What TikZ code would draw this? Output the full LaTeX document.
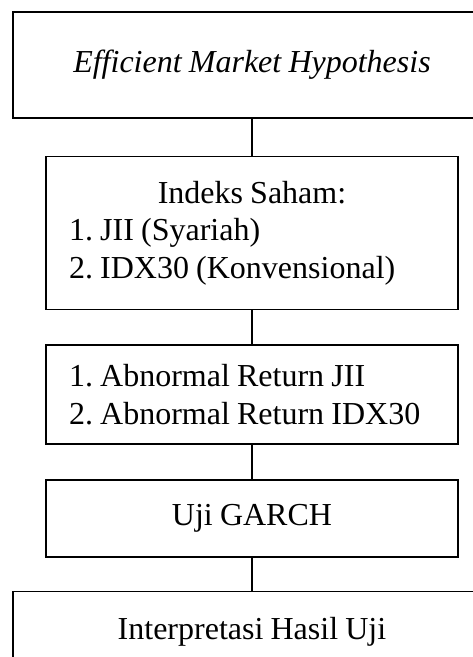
\documentclass[tikz,border=0pt]{standalone}
\usepackage{fontspec}
\setmainfont{Liberation Serif}[WordSpace=0.9]
\usetikzlibrary{positioning}
\tikzset{
  box/.style = {draw=black, line width=1.2pt, inner sep=0pt,
    font=\fontsize{24}{28.2}\selectfont\frenchspacing},
  box_wide/.style = {box, minimum width=358.5pt, align=flush center},% kotak lebar
  box_list/.style = {box, minimum width=309pt, text width=274.5pt,
    align=flush left}% kotak sempit
}

\begin{document}
\begin{tikzpicture}[line width=1.2pt]
\useasboundingbox (0,0) rectangle (354pt,-492.75pt);
\node (emh) [box_wide, minimum height=79.5pt] at (189pt,-48.75pt)
    {\textit{Efficient Market Hypothesis}};
\node (idx) [box_list, minimum height=114.75pt, below=27.75pt of emh]
    {\makebox[\linewidth]{Indeks Saham:}\\
     1. JII (Syariah)\\
     2. IDX30 (Konvensional)};
\node (ar) [box_list, minimum height=74.25pt, below=25.5pt of idx]
    {1. Abnormal Return JII\\
     2. Abnormal Return IDX30};
\node (garch) [box_list, align=flush center, minimum height=57.75pt,
    below=25.5pt of ar] {Uji GARCH};
\node (hasil) [box_wide, minimum height=60pt, below=24.75pt of garch]
    {Interpretasi Hasil Uji};
\draw (emh) -- (idx);
\draw (idx) -- (ar);
\draw (ar) -- (garch);
\draw (garch) -- (hasil);
\end{tikzpicture}
\end{document}
